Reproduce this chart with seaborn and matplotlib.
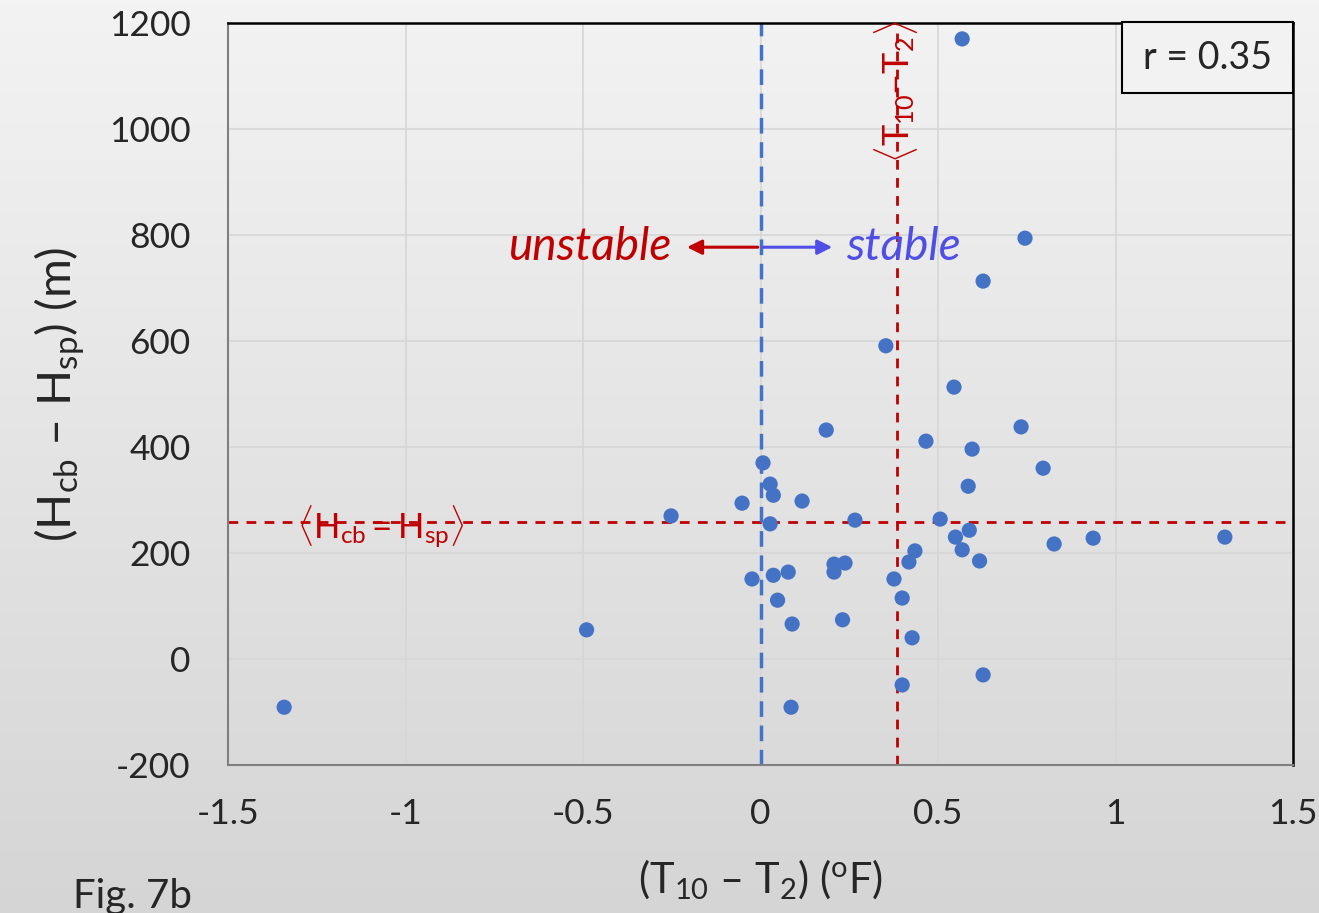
import numpy as np
import pandas as pd
import seaborn as sns
import matplotlib.pyplot as plt
from matplotlib.colors import LinearSegmentedColormap
from matplotlib.patches import Rectangle

#   data
x_vals = [0.568, 0.745, 0.627, 0.353, 0.545, 0.185, 0.466, 0.734, 0.596, 0.796,
          0.007, 0.027, 0.036, -0.052, 0.117, 0.585, -0.252, 0.027, 0.266, 0.506,
          0.588, 0.549, 0.568, 0.435, 0.617, 0.418, 0.827, 0.937, 1.308, 0.207,
          0.238, 0.207, 0.036, 0.078, -0.024, 0.376, 0.048, 0.399, 0.231, 0.089,
          0.427, -0.490, 0.399, 0.627, -1.342, 0.086]
y_vals = [1170, 794, 713, 591, 513, 432, 411, 438, 396, 360,
          370, 330, 309, 294, 298, 326, 270, 255, 262, 264,
          243, 230, 206, 204, 185, 183, 217, 228, 230, 179,
          181, 164, 158, 164, 151, 151, 111, 115, 74, 66,
          40, 55, -49, -30, -91, -91]

mean_dh = 258      # <Hcb=Hsp>
mean_dt = 0.385    # <T10-T2>
r_value = 0.35

x_ticks = [-1.5, -1, -0.5, 0, 0.5, 1, 1.5]
x_tick_labels = ['-1.5', '-1', '-0.5', '0', '0.5', '1', '1.5']
y_ticks = [-200, 0, 200, 400, 600, 800, 1000, 1200]
y_tick_labels = ['-200', '0', '200', '400', '600', '800', '1000', '1200']

df = pd.DataFrame({'dT': x_vals, 'dH': y_vals})

sns.set_style('white')
plt.rcParams['font.family'] = ['Lato', 'DejaVu Sans']
plt.rcParams['mathtext.fontset'] = 'custom'
plt.rcParams['mathtext.rm'] = 'Lato'
plt.rcParams['mathtext.it'] = 'Lato:italic'
plt.rcParams['axes.unicode_minus'] = False

fig = plt.figure(figsize=(13.19, 9.13), dpi=100)

#   gradient background
bg = fig.add_axes([0, 0, 1, 1], zorder=-10)
cmap = LinearSegmentedColormap.from_list('bg', ['#F3F3F3', '#D5D5D5'])
bg.imshow(np.linspace(0, 1, 256).reshape(-1, 1), aspect='auto', cmap=cmap,
          extent=[0, 1, 0, 1], origin='upper')
bg.axis('off')

ax = fig.add_axes([0.1729, 0.1621, 0.8074, 0.8127])
ax.set_facecolor('none')

ax.grid(True, color='#D6D6D6', lw=1.2, zorder=0)
ax.axhline(mean_dh, color='#C00000', lw=2, ls=(0, (3.5, 3)), zorder=2)
ax.axvline(mean_dt, color='#C00000', lw=2, ls=(0, (3.5, 3)), zorder=2)
ax.axvline(0, color='#4472C4', lw=2.5, ls=(0, (4.5, 2.5)), zorder=2)

sns.scatterplot(data=df, x='dT', y='dH', ax=ax, color='#4472C4', s=120,
                edgecolor='none', zorder=3)

ax.set_xlim(-1.5, 1.5)
ax.set_ylim(-200, 1200)
ax.set_xticks(x_ticks)
ax.set_xticklabels(x_tick_labels)
ax.set_yticks(y_ticks)
ax.set_yticklabels(y_tick_labels)
ax.tick_params(axis='both', length=0, labelsize=25.5)
ax.tick_params(axis='y', pad=27)
ax.tick_params(axis='x', pad=24)

for s in ['left', 'bottom']:
    ax.spines[s].set_color('#7F7F7F')
    ax.spines[s].set_linewidth(1.5)
for s in ['top', 'right']:
    ax.spines[s].set_color('black')
    ax.spines[s].set_linewidth(1.8)

ax.set_xlabel(r'(T$_{\mathregular{10}}$ – T$_{\mathregular{2}}$) ($^{\mathregular{o}}$F)',
              fontsize=30, labelpad=20)
ax.set_ylabel(r'(H$_{\mathregular{cb}}$ – H$_{\mathregular{sp}}$) (m)',
              fontsize=34, labelpad=16)

#   stability arrows
ax.annotate('', xy=(-0.215, 777), xytext=(0, 777),
            arrowprops=dict(arrowstyle='-|>', color='#C00000', lw=2.2, mutation_scale=22))
ax.annotate('', xy=(0.21, 777), xytext=(0, 777),
            arrowprops=dict(arrowstyle='-|>', color='#4F4FE6', lw=2.2, mutation_scale=22))
ax.text(-0.25, 777, 'unstable', color='#C00000', fontsize=33, style='italic',
        ha='right', va='center')
ax.text(0.24, 777, 'stable', color='#4F4FE6', fontsize=33, style='italic',
        ha='left', va='center')

#   mean labels
ax.text(-1.069, mean_dh - 8, r'$\langle\mathregular{H_{cb}{=}H_{sp}}\rangle$', color='#C00000',
        fontsize=25, ha='center', va='center', zorder=4)
ax.text(mean_dt - 0.003, 1070, r'$\langle\mathregular{T_{10}{-}T_{2}}\rangle$', color='#C00000',
        fontsize=26, ha='center', va='center', rotation=90, zorder=4)

#   correlation box
ax.add_patch(Rectangle((0.8394, 0.9057), 0.1606, 0.0955, transform=ax.transAxes,
                       fc='#F2F2F2', ec='black', lw=1.5, clip_on=False, zorder=5))
ax.text(0.9197, 0.9535, f'r = {r_value}', transform=ax.transAxes, fontsize=27,
        ha='center', va='center', zorder=6)

fig.text(0.055, 0.005, 'Fig. 7b', fontsize=29, ha='left', va='baseline')

fig.savefig('out.png', dpi=100)
